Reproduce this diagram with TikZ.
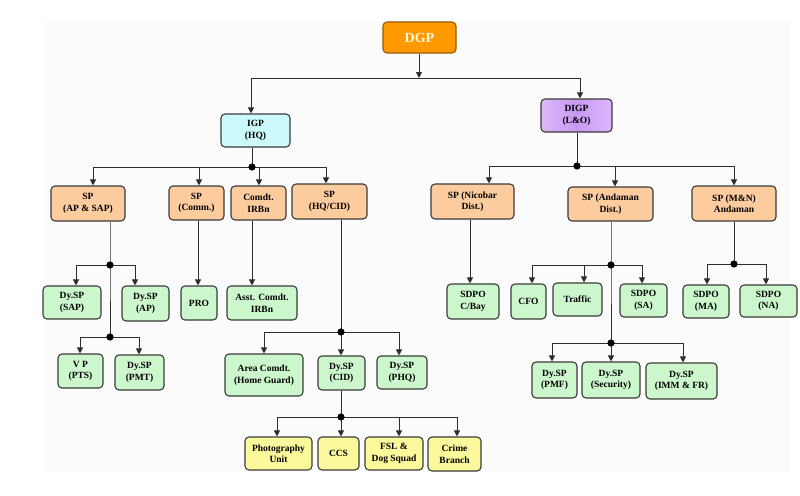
\documentclass[tikz,border=0pt]{standalone}
\usepackage{fontspec}
\setmainfont{Liberation Serif}
\usetikzlibrary{arrows.meta}
\definecolor{frame}{HTML}{3A3A3A}
\definecolor{wirecol}{HTML}{2E2E2E}
\definecolor{orangefill}{HTML}{FF9900}
\definecolor{orangeedge}{HTML}{9A5A00}
\definecolor{dgptext}{HTML}{FFF4DC}
\definecolor{peach}{HTML}{FCCB9E}
\definecolor{mint}{HTML}{CCF7CC}
\definecolor{lemon}{HTML}{FCF89C}
\definecolor{icecyan}{HTML}{CCFAFC}
\definecolor{lilac}{HTML}{DDB8FA}
\definecolor{lilacmid}{HTML}{C799F2}
\definecolor{canvas}{HTML}{FBFBFB}
\tikzset{
  unit/.style={draw=frame, rounded corners=4pt, line width=1.1pt, align=center,
    inner sep=1pt, text=black, font=\bfseries\fontsize{9.5}{11.5}\selectfont},
  sz/.style 2 args={minimum width=#1, minimum height=#2},
  peachbox/.style={unit, fill=peach},
  greenbox/.style={unit, fill=mint},
  yellowbox/.style={unit, fill=lemon},
  wire/.style={draw=wirecol, line width=0.9pt},
  arr/.style={wire, -{Triangle[width=6pt,length=6pt]}},
  dot/.style={fill=black}
}
\begin{document}
\begin{tikzpicture}[x=1pt,y=-1pt]
\useasboundingbox (0,0) rectangle (800,495);
\fill[canvas] (43,21) rectangle (790,473);

% ---- top level ----
\node[unit, draw=orangeedge, fill=orangefill, text=dgptext, sz={73}{31},
      font=\bfseries\fontsize{14}{16}\selectfont] (dgp) at (419.5,37.5) {DGP};
\node[unit, fill=icecyan, sz={69}{33}] (igp) at (255.5,130.5) {IGP\\(HQ)};
\node[unit, left color=lilac, right color=lilac, middle color=lilacmid, sz={71}{33}]
      (digp) at (576.5,115.5) {DIGP\\(L\&O)};

\coordinate (tL) at (251,78);
\coordinate (tM) at (419,78);
\coordinate (tR) at (580,78);
\draw[wire] (tL) -- (tR);
\draw[arr] (dgp.south -| tM) -- (tM);
\draw[arr] (tL) -- (tL |- igp.north);
\draw[arr] (tR) -- (tR |- digp.north);

% ---- IGP (HQ) branch ----
\node[peachbox, sz={74}{35}] (spap) at (88,203.5) {SP\\(AP \& SAP)};
\node[peachbox, sz={55}{34}] (spcomm) at (196.5,203) {SP\\(Comm.)};
\node[peachbox, sz={55}{34}] (comdt) at (258.5,203) {Comdt.\\IRBn};
\node[peachbox, sz={75}{35}] (sphq) at (329.5,201.5) {SP\\(HQ/CID)};

\coordinate (jI) at (252,167);
\coordinate (bI1) at (93,167);
\coordinate (bI2) at (199,167);
\coordinate (bI3) at (259,167);
\coordinate (bI4) at (326,167);
\draw[wire] (igp.south -| jI) -- (jI);
\draw[wire] (bI1) -- (bI4);
\foreach \c/\n in {bI1/spap, bI2/spcomm, bI3/comdt, bI4/sphq}
  \draw[arr] (\c) -- (\c |- \n.north);
\fill[dot] (jI) circle (3.6);

% SP (AP & SAP)
\node[greenbox, sz={58}{33}] (dsap) at (72,302.5) {Dy.SP\\(SAP)};
\node[greenbox, sz={47}{35}] (dap) at (145.5,303.5) {Dy.SP\\(AP)};
\node[greenbox, sz={45}{34}] (vp) at (80.5,371) {V P\\(PTS)};
\node[greenbox, sz={49}{35}] (dpmt) at (139.5,372.5) {Dy.SP\\(PMT)};
\coordinate (jA) at (110,265);
\coordinate (jA2) at (110,337);
\coordinate (bA1) at (76,265);
\coordinate (bA2) at (135,265);
\coordinate (bA3) at (80,337);
\coordinate (bA4) at (139,337);
\draw[wire] (spap.south -| jA) -- (jA) -- (jA2);
\draw[wire] (bA1) -- (bA2);
\draw[wire] (bA3) -- (bA4);
\foreach \c/\n in {bA1/dsap, bA2/dap, bA3/vp, bA4/dpmt}
  \draw[arr] (\c) -- (\c |- \n.north);
\fill[dot] (jA) circle (3.6);
\fill[dot] (jA2) circle (3.6);

% SP (Comm.) and Comdt. IRBn
\node[greenbox, sz={36}{34}] (pro) at (199,303) {PRO};
\node[greenbox, sz={70}{34}] (asst) at (262,303) {Asst. Comdt.\\IRBn};
\draw[arr] ([xshift=1.5pt]spcomm.south) -- ([xshift=1.5pt]spcomm.south |- pro.north);
\draw[arr] ([xshift=-6.5pt]comdt.south) -- ([xshift=-6.5pt]comdt.south |- asst.north);

% SP (HQ/CID)
\node[greenbox, sz={78}{42}] (area) at (264,375) {Area Comdt.\\(Home Guard)};
\node[greenbox, sz={47}{34}] (dcid) at (341.5,373) {Dy.SP\\(CID)};
\node[greenbox, sz={50}{33}] (dphq) at (402,372.5) {Dy.SP\\(PHQ)};
\coordinate (jH) at (341,332);
\coordinate (bH1) at (264,332);
\coordinate (bH3) at (399,332);
\draw[wire] (sphq.south -| jH) -- (jH);
\draw[wire] (bH1) -- (bH3);
\foreach \c/\n in {bH1/area, jH/dcid, bH3/dphq}
  \draw[arr] (\c) -- (\c |- \n.north);
\fill[dot] (jH) circle (3.6);

% Dy.SP (CID)
\node[yellowbox, sz={67}{33}] (photo) at (278.5,453.5) {Photography\\Unit};
\node[yellowbox, sz={41}{33}] (ccs) at (338.5,453.5) {CCS};
\node[yellowbox, sz={58}{33}] (fsl) at (394,453.5) {FSL \&\\Dog Squad};
\node[yellowbox, sz={53}{34}] (crime) at (454.5,454) {Crime\\Branch};
\coordinate (jC) at (341,417);
\coordinate (bC1) at (277,417);
\coordinate (bC3) at (399,417);
\coordinate (bC4) at (457,417);
\draw[wire] (dcid.south -| jC) -- (jC);
\draw[wire] (bC1) -- (bC4);
\foreach \c/\n in {bC1/photo, jC/ccs, bC3/fsl, bC4/crime}
  \draw[arr] (\c) -- (\c |- \n.north);
\fill[dot] (jC) circle (3.6);

% ---- DIGP (L&O) branch ----
\node[peachbox, sz={83}{35}] (nico) at (472.5,201.5) {SP (Nicobar\\Dist.)};
\node[peachbox, sz={85}{34}] (anda) at (610.5,204) {SP (Andaman\\Dist.)};
\node[peachbox, sz={84}{35}] (mn) at (734,203.5) {SP (M\&N)\\Andaman};
\coordinate (jD) at (577,166);
\coordinate (bD1) at (489,166);
\coordinate (bD2) at (615,166);
\coordinate (bD3) at (734,166);
\draw[wire] (digp.south -| jD) -- (jD);
\draw[wire] (bD1) -- (bD3);
\foreach \c/\n in {bD1/nico, bD2/anda, bD3/mn}
  \draw[arr] (\c) -- (\c |- \n.north);
\fill[dot] (jD) circle (3.6);

% SP (Nicobar Dist.)
\node[greenbox, sz={52}{35}] (cbay) at (473,301.5) {SDPO\\C/Bay};
\draw[arr] ([xshift=-2.5pt]nico.south) -- ([xshift=-2.5pt]nico.south |- cbay.north);

% SP (Andaman Dist.)
\node[greenbox, sz={35}{35}] (cfo) at (528.5,301.5) {CFO};
\node[greenbox, sz={49}{33}] (traffic) at (577.5,299.5) {Traffic};
\node[greenbox, sz={47}{33}] (sdsa) at (643.5,300.5) {SDPO\\(SA)};
\node[greenbox, sz={45}{36}] (pmf) at (554.5,380) {Dy.SP\\(PMF)};
\node[greenbox, sz={58}{36}] (secu) at (611,380) {Dy.SP\\(Security)};
\node[greenbox, sz={71}{36}] (imm) at (681.5,381) {Dy.SP\\(IMM \& FR)};
\coordinate (jN) at (611,265);
\coordinate (jN2) at (611,343);
\coordinate (bN1) at (532,265);
\coordinate (bN2) at (584,265);
\coordinate (bN3) at (642,265);
\coordinate (bN4) at (552,343);
\coordinate (bN6) at (683,343);
\draw[wire] (anda.south -| jN) -- (jN) -- (jN2);
\draw[wire] (bN1) -- (bN3);
\draw[wire] (bN4) -- (bN6);
\foreach \c/\n in {bN1/cfo, bN2/traffic, bN3/sdsa, bN4/pmf, jN2/secu, bN6/imm}
  \draw[arr] (\c) -- (\c |- \n.north);
\fill[dot] (jN) circle (3.6);
\fill[dot] (jN2) circle (3.6);

% SP (M&N) Andaman
\node[greenbox, sz={46}{33}] (sdma) at (706,301.5) {SDPO\\(MA)};
\node[greenbox, sz={57}{32}] (sdna) at (768.5,301) {SDPO\\(NA)};
\coordinate (jM) at (734,264);
\coordinate (bM1) at (707,264);
\coordinate (bM2) at (766,264);
\draw[wire] (mn.south -| jM) -- (jM);
\draw[wire] (bM1) -- (bM2);
\foreach \c/\n in {bM1/sdma, bM2/sdna}
  \draw[arr] (\c) -- (\c |- \n.north);
\fill[dot] (jM) circle (3.6);
\end{tikzpicture}
\end{document}
